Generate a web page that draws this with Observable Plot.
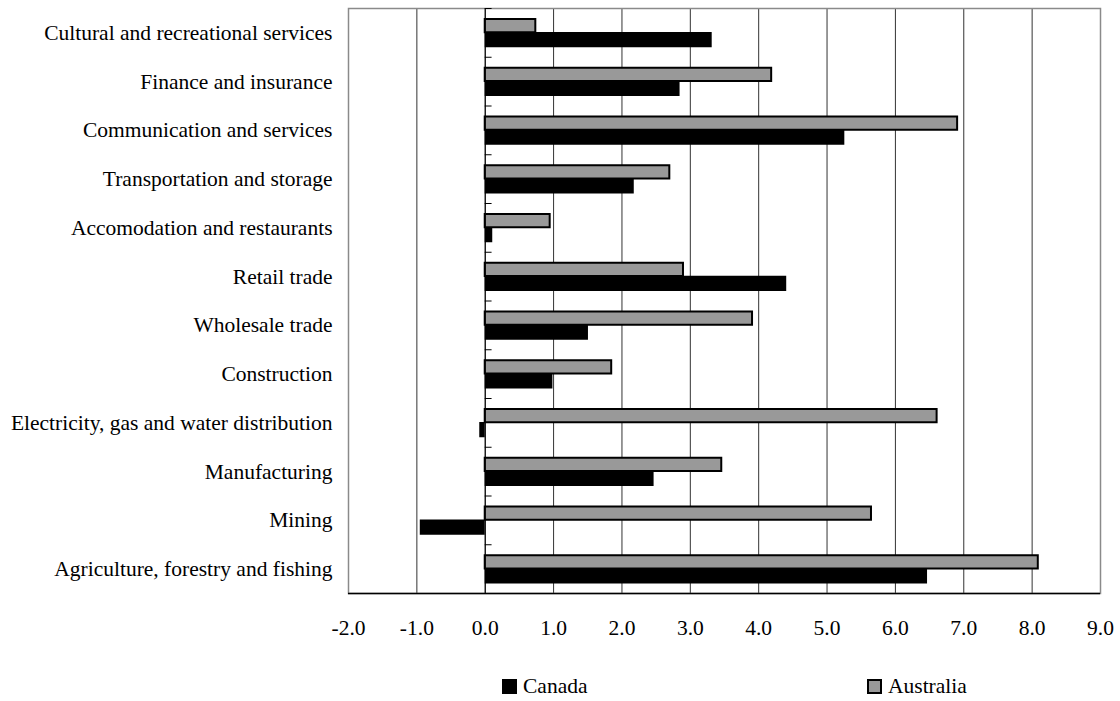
<!DOCTYPE html>
<html>
<head>
<meta charset="utf-8">
<script src="https://cdn.jsdelivr.net/npm/d3@7"></script>
<script src="https://cdn.jsdelivr.net/npm/@observablehq/plot@0.6"></script>
<style>
  html, body { margin: 0; padding: 0; background: #fff; }
  body { font-family: "Liberation Serif", "Times New Roman", serif; width: 1120px; height: 701px; overflow: hidden; }
  #legend { position: relative; width: 1120px; height: 51px; font-family: "Liberation Serif", serif; font-size: 21.5px; line-height: 21px; color: #000; }
  #legend .sw { position: absolute; top: 29px; width: 15px; height: 15px; box-sizing: border-box; }
  #legend .lb { position: absolute; top: 26px; white-space: nowrap; }
</style>
</head>
<body>
<div id="chart"></div>
<div id="legend">
  <span class="sw" style="left:502px;background:#000;"></span><span class="lb" style="left:523px;">Canada</span>
  <span class="sw" style="left:867px;background:#999;border:2px solid #000;"></span><span class="lb" style="left:888px;">Australia</span>
</div>
<script>
const categories = [
  "Cultural and recreational services",
  "Finance and insurance",
  "Communication and services",
  "Transportation and storage",
  "Accomodation and restaurants",
  "Retail trade",
  "Wholesale trade",
  "Construction",
  "Electricity, gas and water distribution",
  "Manufacturing",
  "Mining",
  "Agriculture, forestry and fishing"
];
const australia = [0.74, 4.19, 6.91, 2.70, 0.95, 2.90, 3.91, 1.85, 6.61, 3.46, 5.65, 8.09];
const canada    = [3.32, 2.85, 5.26, 2.18, 0.11, 4.41, 1.51, 0.99, -0.08, 2.47, -0.95, 6.47];
const xTicks = [-2, -1, 0, 1, 2, 3, 4, 5, 6, 7, 8, 9];

const rows = categories.map((c, i) => ({category: c, australia: australia[i], canada: canada[i]}));

const W = 1120, H = 650, mL = 348, mR = 20, mT = 8, mB = 57;
const bw = (H - mT - mB) / categories.length;

const chart = Plot.plot({
  width: W, height: H,
  marginLeft: mL, marginRight: mR, marginTop: mT, marginBottom: mB,
  style: {fontFamily: "'Liberation Serif', 'Times New Roman', serif", fontSize: "21.5px", color: "#000", background: "#fff"},
  x: {domain: [-2, 9], axis: null},
  y: {domain: categories, padding: 0, round: false, axis: null},
  marks: [
    Plot.ruleX(xTicks.slice(1, -1), {stroke: "#333", strokeWidth: 1}),
    Plot.frame({stroke: "#8a8a8a", strokeWidth: 1.5}),
    Plot.barX(rows, {y: "category", x1: () => 0, x2: "canada", fill: "#000", insetTop: 24, insetBottom: 9.5}),
    Plot.barX(rows, {y: "category", x1: () => 0, x2: "australia", fill: "#999", stroke: "#000", strokeWidth: 2, insetTop: 11, insetBottom: 24.5}),
    Plot.ruleX([0], {stroke: "#000", strokeWidth: 1}),
    Plot.ruleY(categories, {y: d => d, x1: () => 0, x2: () => 0.1, dy: -bw / 2, stroke: "#000", strokeWidth: 1}),
    Plot.ruleY(categories.slice(-1), {y: d => d, dy: bw / 2, stroke: "#000", strokeWidth: 1.5}),
    Plot.axisX(xTicks, {tickSize: 0, tickPadding: 26, tickFormat: d => d.toFixed(1), fontSize: 21.5, label: null}),
    Plot.axisY({tickSize: 0, tickPadding: 16, fontSize: 21.5, label: null})
  ]
});
document.getElementById("chart").appendChild(chart);
</script>
</body>
</html>
